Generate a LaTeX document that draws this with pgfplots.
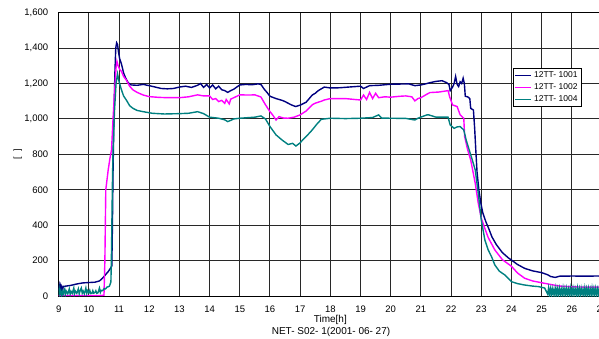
\documentclass[border=0pt]{standalone}
\usepackage{fontspec}
\setmainfont{Liberation Sans}
\usepackage{pgfplots}
\pgfplotsset{compat=1.18}
\definecolor{cnavy}{RGB}{0,0,128}
\definecolor{cmag}{RGB}{255,0,255}
\definecolor{cteal}{RGB}{0,128,128}
\definecolor{cgrid}{RGB}{40,40,40}
\begin{document}
\begin{tikzpicture}
\useasboundingbox (0,0) rectangle (599pt,-338pt);
\begin{axis}[
  at={(58.7pt,-296pt)}, anchor=south west,
  scale only axis, width=543.3pt, height=283.3pt,
  xmin=9, xmax=27, ymin=0, ymax=1600,
  xtick={9,10,...,27}, ytick={0,200,...,1600},
  xmajorgrids=true, ymajorgrids=true,
  grid style={draw=cgrid, line width=1pt, solid},
  axis line style={black, line width=1pt},
  major tick length=0pt,
  /pgf/number format/assume math mode=true,
  /pgf/number format/1000 sep={,},
  ticklabel style={font=\fontsize{9.5}{10}\selectfont},
  yticklabel style={xshift=-7pt},
  xticklabel style={yshift=-6pt},
  xlabel={Time[h]},
  xlabel style={at={(axis description cs:0.5,0)}, anchor=center, yshift=-24pt, font=\fontsize{10}{11}\selectfont},
  ylabel={[\ \ ]},
  ylabel style={at={(axis description cs:0,0.5)}, anchor=center, yshift=41pt, font=\fontsize{9}{10}\selectfont},
  legend style={at={(0.8356,0.8048)}, anchor=north west, draw=black, line width=1pt,
     font=\fontsize{8.5}{10}\selectfont, inner sep=1.5pt, row sep=0.5pt, cells={anchor=west}},
  legend image code/.code={\draw[#1, line width=1.4pt] (0pt,0pt) -- (16pt,0pt);},
  every axis plot/.append style={line width=1.4pt, mark=none},
]
\addplot[cnavy] coordinates {
(9.00,30)(9.02,55)(9.04,25)(9.06,52)(9.08,30)(9.10,50)(9.13,28)(9.15,55)(9.2,55)(9.4,60)(9.6,68)(9.8,74)(10.0,76)(10.2,78)(10.35,85)(10.45,100)(10.55,120)(10.65,140)(10.72,158)(10.76,170)(10.78,400)(10.80,700)(10.83,1000)(10.86,1250)(10.89,1400)(10.92,1430)(10.95,1420)(10.98,1380)(11.02,1340)(11.08,1310)(11.15,1260)(11.22,1230)(11.3,1205)(11.4,1192)(11.6,1190)(11.8,1195)(12.0,1188)(12.2,1180)(12.4,1172)(12.6,1170)(12.8,1172)(13.0,1180)(13.2,1185)(13.4,1178)(13.6,1190)(13.7,1200)(13.8,1178)(13.9,1195)(14.0,1175)(14.1,1192)(14.2,1170)(14.3,1185)(14.4,1165)(14.5,1160)(14.6,1150)(14.7,1160)(14.8,1168)(14.9,1180)(15.0,1192)(15.2,1195)(15.4,1193)(15.6,1198)(15.7,1195)(15.8,1170)(15.9,1150)(16.0,1128)(16.2,1115)(16.4,1105)(16.5,1098)(16.7,1080)(16.85,1070)(17.0,1078)(17.2,1095)(17.4,1135)(17.5,1145)(17.6,1160)(17.8,1180)(18.0,1175)(18.3,1176)(18.6,1180)(19.0,1185)(19.1,1172)(19.3,1188)(19.6,1190)(20.0,1196)(20.3,1197)(20.6,1198)(20.8,1188)(21.0,1192)(21.2,1200)(21.3,1205)(21.5,1212)(21.7,1216)(21.85,1205)(21.93,1195)(21.97,1160)(22.05,1180)(22.1,1200)(22.15,1240)(22.2,1195)(22.25,1183)(22.3,1210)(22.35,1200)(22.4,1230)(22.44,1200)(22.47,1128)(22.55,1125)(22.62,1115)(22.65,1060)(22.74,1050)(22.78,950)(22.82,820)(22.86,700)(22.92,600)(22.98,530)(23.05,470)(23.15,420)(23.25,380)(23.35,335)(23.5,290)(23.7,245)(23.9,215)(24.0,203)(24.2,178)(24.44,156)(24.7,142)(25.0,132)(25.2,120)(25.3,110)(25.45,105)(25.6,112)(25.8,112)(26.0,113)(26.4,112)(26.85,113)(27,112)
};
\addlegendentry{12TT- 1001}
\addplot[cmag] coordinates {
(9.0,3)(10.0,3)(10.42,3)(10.5,5)(10.53,200)(10.56,600)(10.64,712)(10.7,780)(10.75,825)(10.8,1000)(10.85,1150)(10.9,1290)(10.93,1325)(10.97,1300)(11.02,1280)(11.08,1268)(11.15,1240)(11.24,1220)(11.35,1185)(11.46,1164)(11.6,1150)(11.8,1135)(12.0,1126)(12.3,1122)(12.6,1120)(13.0,1120)(13.3,1125)(13.6,1136)(13.8,1130)(14.0,1130)(14.1,1110)(14.2,1115)(14.3,1098)(14.4,1105)(14.5,1088)(14.55,1110)(14.65,1085)(14.7,1112)(14.8,1120)(15.0,1136)(15.3,1135)(15.5,1136)(15.7,1124)(15.85,1080)(16.0,1041)(16.1,1020)(16.2,994)(16.3,1013)(16.45,1005)(16.6,1004)(16.8,1010)(17.0,1023)(17.2,1045)(17.4,1080)(17.5,1089)(17.7,1100)(17.8,1107)(18.0,1115)(18.5,1115)(18.8,1110)(19.0,1107)(19.1,1135)(19.2,1110)(19.3,1150)(19.4,1115)(19.5,1145)(19.6,1120)(19.8,1125)(20.0,1123)(20.3,1128)(20.5,1130)(20.7,1125)(20.8,1102)(20.9,1115)(21.0,1120)(21.2,1140)(21.3,1149)(21.6,1152)(21.9,1160)(21.95,1126)(22.05,1079)(22.2,1070)(22.3,1023)(22.42,1004)(22.45,900)(22.55,825)(22.65,768)(22.8,637)(22.9,524)(23.0,440)(23.1,390)(23.23,330)(23.45,260)(23.7,205)(24.0,168)(24.2,130)(24.44,100)(24.7,85)(25.0,75)(25.3,65)(25.6,56)(26.0,52)(26.5,50)(27,50)
};
\addlegendentry{12TT- 1002}
\addplot[cteal] coordinates {
(9.0,5)(9.02,35)(9.04,8)(9.07,30)(9.1,5)(9.13,25)(9.15,10)(9.2,38)(9.22,8)(9.25,28)(9.3,12)(9.35,40)(9.38,10)(9.41,26)(9.45,15)(9.5,45)(9.52,12)(9.55,28)(9.6,15)(9.65,40)(9.68,12)(9.71,30)(9.75,45)(9.78,15)(9.81,28)(9.85,12)(9.9,45)(9.93,15)(9.96,30)(10.0,18)(10.03,32)(10.06,14)(10.1,15)(10.13,30)(10.16,16)(10.2,20)(10.23,30)(10.26,15)(10.3,18)(10.35,45)(10.38,20)(10.41,32)(10.45,30)(10.5,40)(10.55,40)(10.6,50)(10.68,55)(10.73,80)(10.75,260)(10.78,638)(10.8,825)(10.85,1050)(10.9,1200)(10.95,1254)(11.0,1210)(11.08,1164)(11.15,1130)(11.24,1107)(11.35,1075)(11.46,1060)(11.6,1048)(11.8,1041)(12.1,1032)(12.5,1028)(13.0,1030)(13.3,1032)(13.6,1041)(13.8,1030)(14.0,1010)(14.3,1004)(14.5,995)(14.6,985)(14.7,992)(14.8,1000)(15.0,1004)(15.5,1010)(15.7,1017)(15.85,1000)(16.0,957)(16.2,910)(16.4,881)(16.6,856)(16.75,862)(16.86,847)(17.0,865)(17.08,881)(17.25,910)(17.4,938)(17.55,970)(17.7,998)(18.0,1004)(18.5,1002)(19.0,1004)(19.4,1008)(19.6,1023)(19.7,1005)(20.0,1004)(20.5,1003)(20.8,994)(20.9,1004)(21.2,1023)(21.26,1023)(21.5,1010)(21.9,1010)(21.97,966)(22.1,947)(22.2,955)(22.3,957)(22.42,938)(22.5,881)(22.6,825)(22.7,770)(22.8,712)(22.9,581)(23.0,429)(23.12,316)(23.23,260)(23.34,222)(23.45,175)(23.6,140)(23.78,119)(24.0,81)(24.2,70)(24.44,62)(24.7,56)(24.9,53)(25.1,45)(25.2,10)(25.23,45)(25.26,8)(25.29,40)(25.32,6)(25.35,42)(25.38,10)(25.41,38)(25.44,5)(25.47,44)(25.5,8)(25.53,40)(25.56,6)(25.59,42)(25.62,10)(25.65,38)(25.68,5)(25.71,44)(25.74,8)(25.77,40)(25.8,6)(25.83,42)(25.86,10)(25.89,38)(25.92,5)(25.95,44)(25.98,8)(26.01,40)(26.04,6)(26.07,42)(26.1,10)(26.13,38)(26.16,5)(26.19,44)(26.22,8)(26.25,40)(26.28,6)(26.31,42)(26.34,10)(26.37,38)(26.4,5)(26.43,44)(26.46,8)(26.49,40)(26.52,6)(26.55,42)(26.58,10)(26.61,38)(26.64,5)(26.67,44)(26.7,8)(26.73,40)(26.76,6)(26.79,42)(26.82,10)(26.85,38)(26.88,5)(26.91,44)(26.94,8)(26.97,40)(27,10)
};
\addlegendentry{12TT- 1004}
\end{axis}
\node[font=\fontsize{10}{11}\selectfont] at (331pt,-332pt) {NET- S02- 1(2001- 06- 27)};
\end{tikzpicture}
\end{document}
